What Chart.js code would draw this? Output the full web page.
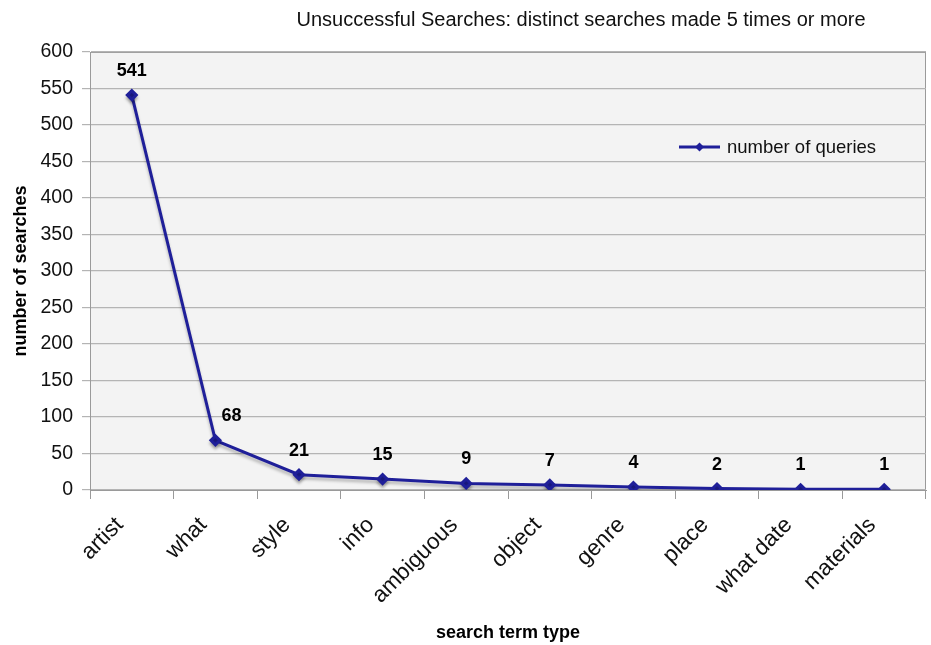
<!DOCTYPE html>
<html>
<head>
<meta charset="utf-8">
<script src="https://cdn.jsdelivr.net/npm/chart.js@4.4.1/dist/chart.umd.min.js"></script>
<style>
  html, body { margin: 0; padding: 0; background: #fff; }
  #wrap { width: 931px; height: 645px; }
</style>
</head>
<body>
<div id="wrap"><canvas id="chart" width="931" height="645"></canvas></div>
<script>
const categories = ['artist', 'what', 'style', 'info', 'ambiguous', 'object', 'genre', 'place', 'what date', 'materials'];
const queries    = [541, 68, 21, 15, 9, 7, 4, 2, 1, 1];
const yTicks     = [0, 50, 100, 150, 200, 250, 300, 350, 400, 450, 500, 550, 600];

const FONT = 'Liberation Sans, Arial, Helvetica, sans-serif';
const NAVY = '#1f1f99';

/* ── plot background ── */
const plotBg = {
  id: 'plotBg',
  beforeDraw(chart) {
    const { ctx, chartArea: a } = chart;
    ctx.save();
    ctx.fillStyle = '#f3f3f3';
    ctx.fillRect(a.left, a.top, a.right - a.left, a.bottom - a.top);
    ctx.strokeStyle = '#9a9a9a';
    ctx.lineWidth = 1;
    ctx.strokeRect(a.left + 0.5, a.top + 0.5, a.right - a.left - 1, a.bottom - a.top - 1);
    ctx.restore();
  }
};

/* ── soft shadow under the line ── */
const lineShadow = {
  id: 'lineShadow',
  beforeDatasetDraw(chart) {
    const ctx = chart.ctx;
    ctx.save();
    ctx.shadowColor = 'rgba(0,0,0,0.25)';
    ctx.shadowBlur = 3;
    ctx.shadowOffsetY = 3;
  },
  afterDatasetDraw(chart) {
    chart.ctx.restore();
  }
};

/* ── value labels, title and legend ── */
const extras = {
  id: 'extras',
  afterDraw(chart) {
    const { ctx } = chart;
    const meta = chart.getDatasetMeta(0);
    ctx.save();
    ctx.fillStyle = '#000';
    ctx.textAlign = 'center';
    ctx.textBaseline = 'alphabetic';
    ctx.font = 'bold 18px ' + FONT;
    meta.data.forEach((pt, i) => {
      ctx.fillText(String(queries[i]), pt.x + (i === 1 ? 16 : 0), pt.y - 19);
    });

    ctx.font = '20px ' + FONT;
    ctx.fillStyle = '#111';
    ctx.fillText('Unsuccessful Searches: distinct searches made 5 times or more', 581, 26);

    // legend
    const lx = 679, ly = 147;
    ctx.strokeStyle = NAVY;
    ctx.lineWidth = 3;
    ctx.beginPath();
    ctx.moveTo(lx, ly);
    ctx.lineTo(lx + 41, ly);
    ctx.stroke();
    ctx.fillStyle = NAVY;
    ctx.beginPath();
    ctx.moveTo(lx + 20.5, ly - 4.5);
    ctx.lineTo(lx + 25, ly);
    ctx.lineTo(lx + 20.5, ly + 4.5);
    ctx.lineTo(lx + 16, ly);
    ctx.closePath();
    ctx.fill();
    ctx.fillStyle = '#111';
    ctx.textAlign = 'left';
    ctx.textBaseline = 'middle';
    ctx.font = '18.5px ' + FONT;
    ctx.fillText('number of queries', lx + 48, ly + 1);
    ctx.restore();
  }
};

new Chart(document.getElementById('chart'), {
  type: 'line',
  data: {
    labels: categories,
    datasets: [{
      label: 'number of queries',
      data: queries,
      borderColor: NAVY,
      backgroundColor: NAVY,
      borderWidth: 3,
      pointStyle: 'rectRot',
      pointRadius: 4.5,
      pointBackgroundColor: NAVY,
      pointBorderColor: NAVY,
      tension: 0
    }]
  },
  options: {
    responsive: false,
    animation: false,
    layout: { autoPadding: false, padding: { top: 52, right: 5, left: 0, bottom: 1 } },
    plugins: {
      legend: { display: false },
      tooltip: { enabled: false }
    },
    scales: {
      x: {
        offset: true,
        grid: {
          offset: true,
          drawOnChartArea: false,
          color: '#9a9a9a',
          tickLength: 9
        },
        border: { color: '#9a9a9a', width: 1 },
        ticks: {
          color: '#111',
          font: { size: 22.5, family: FONT },
          minRotation: 45,
          maxRotation: 45,
          padding: 13,
          labelOffset: -12
        },
        title: {
          display: true,
          text: 'search term type',
          color: '#000',
          font: { size: 18, weight: 'bold', family: FONT },
          padding: { top: 0, bottom: 0 }
        },
        afterFit(scale) { scale.height = 154; }
      },
      y: {
        min: 0,
        max: 600,
        afterBuildTicks(scale) { scale.ticks = yTicks.map(v => ({ value: v })); },
        grid: { color: '#b4b4b4', tickLength: 8, lineWidth: 1.2 },
        border: { color: '#9a9a9a', width: 1 },
        ticks: {
          color: '#111',
          font: { size: 19.5, family: FONT },
          padding: 9
        },
        title: {
          display: true,
          text: 'number of searches',
          color: '#000',
          font: { size: 18, weight: 'bold', family: FONT },
          padding: { top: 10, bottom: 0 }
        },
        afterFit(scale) { scale.width = 90; }
      }
    }
  },
  plugins: [plotBg, lineShadow, extras]
});
</script>
</body>
</html>
